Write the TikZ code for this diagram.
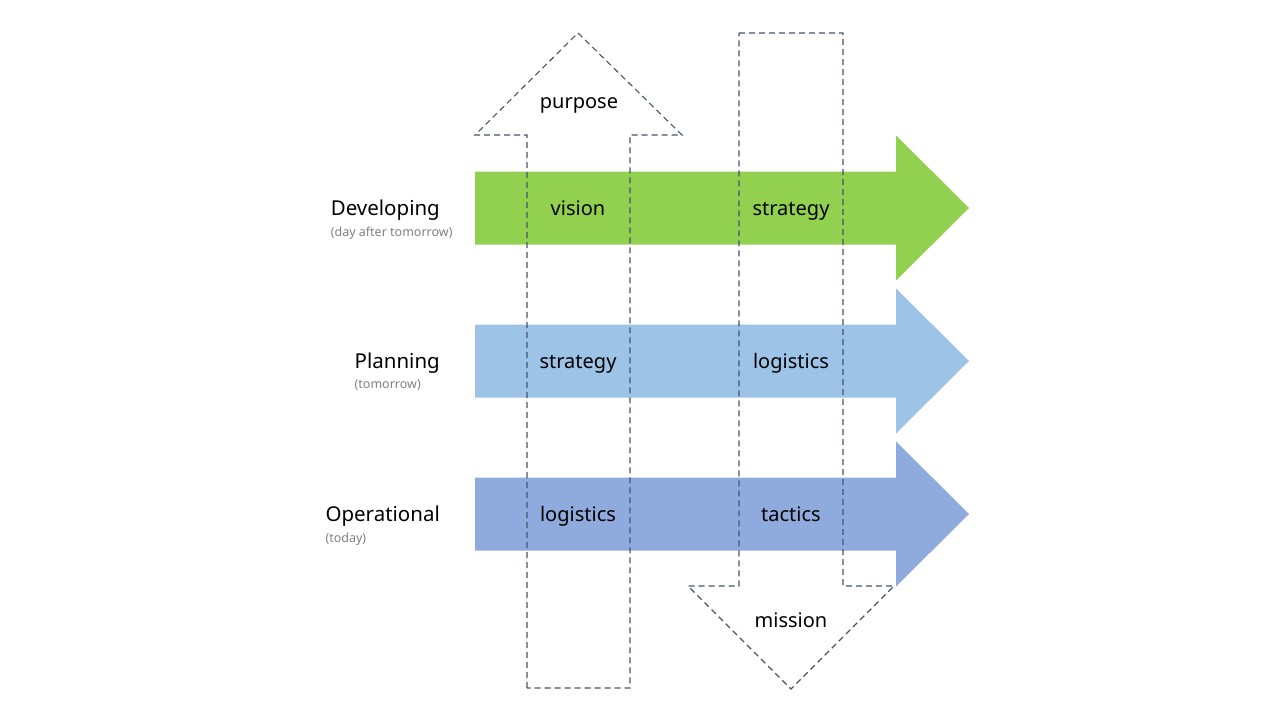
\documentclass[tikz,border=0pt]{standalone}
\usepackage{fontspec}
\setmainfont{Noto Sans}
\definecolor{cgreen}{HTML}{92D050}
\definecolor{clight}{HTML}{9DC3E6}
\definecolor{cblue}{HTML}{8FAADC}
\definecolor{cdash}{HTML}{44546A}
\definecolor{csub}{HTML}{808080}
\begin{document}
\begin{tikzpicture}[x=1pt,y=-1pt,
  dashline/.style={draw=cdash,line width=1.1pt,dash pattern=on 6pt off 4pt},
  lbl/.style={font=\fontsize{20}{24}\selectfont,text=black,inner sep=0pt,anchor=mid},
  rowlbl/.style={font=\fontsize{20.5}{24}\selectfont,text=black,inner sep=0pt,anchor=mid east},
  sublbl/.style={font=\fontsize{12.5}{15}\selectfont,text=csub,inner sep=0pt,anchor=north west}]
\useasboundingbox (0,0) rectangle (1280,720);
% horizontal arrows
\foreach \c/\y in {cgreen/208, clight/361, cblue/514}{
  \fill[\c] (475,\y-36.5) -- (896,\y-36.5) -- (896,\y-72.5) -- (969,\y) -- (896,\y+72.5) -- (896,\y+36.5) -- (475,\y+36.5) -- cycle;
}
% up arrow (purpose)
\draw[dashline] (527,688) -- (527,135) -- (475,135) -- (578,33) -- (682,135) -- (630,135) -- (630,688) -- cycle;
% down arrow (mission)
\draw[dashline] (739,33) -- (843,33) -- (843,586) -- (894,586) -- (791,689) -- (688,586) -- (739,586) -- cycle;
% texts
\node[lbl] (purpose) at (579,106) {purpose};
\node[lbl] (vision) at (578,213) {vision};
\node[lbl] (strat1) at (578,366) {strategy};
\node[lbl] (log1) at (578,519) {logistics};
\node[lbl] (strat2) at (791,213) {strategy};
\node[lbl] (log2) at (791,366) {logistics};
\node[lbl] (tactics) at (791,519) {tactics};
\node[lbl] (mission) at (791,625) {mission};
% row labels
\node[rowlbl] (dev) at (440,213) {Developing};
\node[sublbl] (devs) at ([yshift=-6pt]dev.south west) {(day after tomorrow)};
\node[rowlbl] (plan) at (440,366) {Planning};
\node[sublbl] (plans) at ([yshift=-6pt]plan.south west) {(tomorrow)};
\node[rowlbl] (oper) at (440,519) {Operational};
\node[sublbl] (opers) at ([yshift=-6pt]oper.south west) {(today)};
\end{tikzpicture}
\end{document}
